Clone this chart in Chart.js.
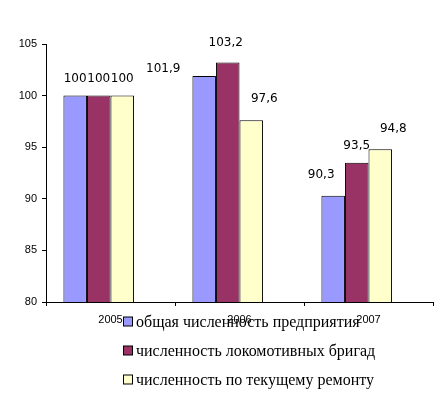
<!DOCTYPE html>
<html>
<head>
<meta charset="utf-8">
<script src="https://cdn.jsdelivr.net/npm/chart.js@4"></script>
<style>
  html, body { margin: 0; padding: 0; background: #fff; }
  #wrap { width: 448px; height: 396px; }
</style>
</head>
<body>
<div id="wrap"><canvas id="c" width="448" height="396"></canvas></div>
<script>
// values
var years = ['2005', '2006', '2007'];
var totalStaff = [100, 101.9, 90.3];
var locoCrews = [100, 103.2, 93.5];
var repairStaff = [100, 97.6, 94.8];
var seriesNames = [
  'общая численность предприятия',
  'численность локомотивных бригад',
  'численность по текущему ремонту'
];
var yTicks = [80, 85, 90, 95, 100, 105];

// where Excel put each value label, relative to its bar (dx, dy)
var labelShift = [
  [[0, -17], [-41, -7], [-12, -21]],
  [[0, -17], [-2, -20], [0, -17]],
  [[0, -17], [13, -21], [13, -20]]
];

var colors = ['#9999FF', '#993366', '#FFFFCC'];

var fmt = function(v) {
  return String(v).replace('.', ',');
};

var valueLabels = {
  id: 'valueLabels',
  afterDatasetsDraw: function(chart) {
    var ctx = chart.ctx;
    ctx.save();
    ctx.font = '12px "DejaVu Sans"';
    ctx.fillStyle = '#000';
    ctx.textAlign = 'center';
    ctx.textBaseline = 'middle';
    for (var d = 0; d < 3; d++) {
      var meta = chart.getDatasetMeta(d);
      meta.data.forEach(function(bar, i) {
        var s = labelShift[d][i];
        ctx.fillText(fmt(chart.data.datasets[d].data[i]), bar.x + s[0], bar.y + s[1]);
      });
    }
    ctx.restore();
  }
};

var sideLegend = {
  id: 'sideLegend',
  afterDraw: function(chart) {
    var ctx = chart.ctx;
    var rows = [321.5, 350.5, 379.5];
    ctx.save();
    ctx.font = '16px "Liberation Serif"';
    ctx.textAlign = 'left';
    ctx.textBaseline = 'middle';
    for (var i = 0; i < 3; i++) {
      var ds = chart.data.datasets[i];
      ctx.fillStyle = ds.backgroundColor;
      ctx.fillRect(123.5, rows[i] - 4.5, 9, 9);
      ctx.strokeStyle = '#000';
      ctx.lineWidth = 1;
      ctx.strokeRect(123.5, rows[i] - 4.5, 9, 9);
      ctx.fillStyle = '#000';
      ctx.fillText(ds.label, 136, rows[i] + 1);
    }
    ctx.restore();
  }
};

var series = [totalStaff, locoCrews, repairStaff];
var datasets = series.map(function(vals, i) {
  return {
    label: seriesNames[i],
    data: vals,
    backgroundColor: colors[i],
    borderColor: '#000',
    borderWidth: 1
  };
});
// empty slot: Excel leaves room for a fourth bar on the right of each group
datasets.push({ label: '', data: [], backgroundColor: 'rgba(0,0,0,0)', borderWidth: 0 });

new Chart(document.getElementById('c'), {
  type: 'bar',
  data: { labels: years, datasets: datasets },
  options: {
    responsive: false,
    animation: false,
    layout: { padding: { top: 44, right: 15, left: 0, bottom: 0 } },
    datasets: { bar: { categoryPercentage: 0.73, barPercentage: 1 } },
    plugins: {
      legend: { display: false },
      tooltip: { enabled: false }
    },
    scales: {
      x: {
        afterFit: function(scale) { scale.height = 94; },
        grid: { drawOnChartArea: false, color: '#000', tickLength: 4 },
        border: { color: '#000' },
        ticks: { color: '#000', padding: 7, font: { family: 'Liberation Sans', size: 11 } }
      },
      y: {
        min: 80,
        max: 105,
        afterFit: function(scale) { scale.width = 46; },
        afterBuildTicks: function(scale) {
          scale.ticks = yTicks.map(function(v) { return { value: v }; });
        },
        grid: { drawOnChartArea: false, color: '#000', tickLength: 4 },
        border: { color: '#000' },
        ticks: { color: '#000', padding: 5, font: { family: 'Liberation Sans', size: 11 } }
      }
    }
  },
  plugins: [valueLabels, sideLegend]
});
</script>
</body>
</html>
